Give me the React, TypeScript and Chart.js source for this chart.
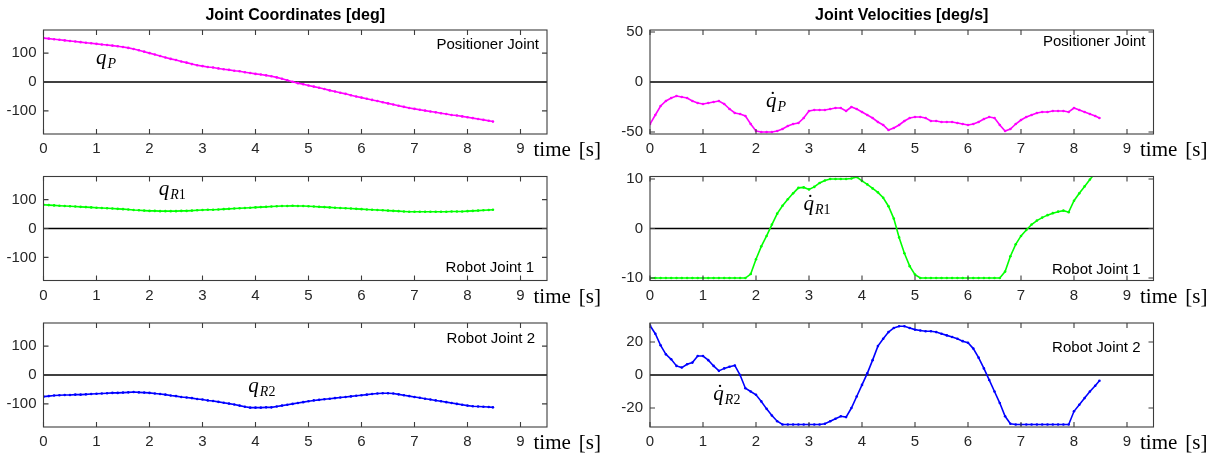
import { useEffect, useRef } from "react";
import { Chart, registerables } from "chart.js";

Chart.register(...registerables);

// ---------------- data ----------------
const TIME = [
  0, 0.1, 0.2, 0.3, 0.4, 0.5, 0.6, 0.7, 0.8, 0.9,
  1.0, 1.1, 1.2, 1.3, 1.4, 1.5, 1.6, 1.7, 1.8, 1.9,
  2.0, 2.1, 2.2, 2.3, 2.4, 2.5, 2.6, 2.7, 2.8, 2.9,
  3.0, 3.1, 3.2, 3.3, 3.4, 3.5, 3.6, 3.7, 3.8, 3.9,
  4.0, 4.1, 4.2, 4.3, 4.4, 4.5, 4.6, 4.7, 4.8, 4.9,
  5.0, 5.1, 5.2, 5.3, 5.4, 5.5, 5.6, 5.7, 5.8, 5.9,
  6.0, 6.1, 6.2, 6.3, 6.4, 6.5, 6.6, 6.7, 6.8, 6.9,
  7.0, 7.1, 7.2, 7.3, 7.4, 7.5, 7.6, 7.7, 7.8, 7.9,
  8.0, 8.1, 8.2, 8.3, 8.4, 8.48,
];

// Joint coordinates [deg]
const Q_P = [
  152, 150, 148, 146, 144, 142, 140, 138, 136, 134,
  132, 130, 128, 126, 124, 121, 118, 114, 110, 105,
  100, 95, 90, 85, 80, 76, 71, 67, 62, 58,
  55, 52, 50, 47, 44, 42, 39, 37, 34, 31,
  28, 26, 23, 20, 16, 11, 6, 1, -4, -8,
  -12, -16, -20, -24, -29, -33, -37, -41, -46, -50,
  -54, -58, -62, -66, -70, -74, -78, -82, -86, -90,
  -93, -96, -99, -102, -105, -108, -111, -114, -116, -119,
  -122, -125, -128, -131, -134, -137,
];

const Q_R1 = [
  82, 81, 80, 79, 78, 77, 76, 75, 74, 73,
  72, 71, 70, 69, 68, 67, 66, 64, 63, 62,
  61, 61, 60, 60, 60, 60, 61, 61, 62, 63,
  64, 65, 65, 66, 67, 68, 69, 70, 71, 72,
  73, 74, 75, 76, 77, 78, 78, 79, 78, 78,
  77, 76, 75, 74, 73, 72, 71, 70, 69, 68,
  67, 66, 65, 64, 63, 62, 61, 60, 59, 58,
  58, 58, 58, 58, 58, 58, 58, 59, 59, 59,
  60, 61, 62, 63, 64, 65,
];

const Q_R2 = [
  -75, -73, -71, -70, -69, -69, -68, -68, -67, -66,
  -65, -64, -63, -62, -62, -61, -60, -59, -60, -61,
  -62, -64, -66, -68, -71, -73, -76, -78, -80, -83,
  -85, -88, -90, -93, -96, -99, -102, -106, -110, -113,
  -113, -113, -112, -112, -109, -106, -103, -100, -97, -94,
  -91, -88, -86, -84, -82, -80, -78, -76, -74, -72,
  -70, -68, -66, -64, -63, -63, -64, -67, -70, -73,
  -76, -79, -82, -85, -88, -91, -94, -97, -100, -103,
  -106, -108, -109, -110, -111, -112,
];

// Joint velocities [deg/s]
const DQ_P = [
  -42, -33, -24, -19, -16, -14, -15, -16, -19, -21,
  -22, -21, -20, -19, -22, -27, -31, -32, -34, -42,
  -49, -50, -50, -50, -49, -47, -44, -42, -41, -36,
  -29, -28, -28, -28, -27, -26, -26, -29, -25, -27,
  -30, -33, -36, -40, -43, -48, -46, -43, -39, -36,
  -35, -35, -36, -39, -39, -40, -40, -40, -41, -42,
  -43, -42, -40, -37, -35, -36, -43, -49, -47, -42,
  -38, -35, -33, -31, -30, -30, -29, -29, -29, -30,
  -26, -28, -30, -32, -34, -36,
];

const DQ_R1 = [
  -10, -10, -10, -10, -10, -10, -10, -10, -10, -10,
  -10, -10, -10, -10, -10, -10, -10, -10, -10, -9.2,
  -6.2, -3.6, -1.5, 0.8, 3, 4.6, 5.9, 7.1, 8.2, 8.3,
  7.9, 8.4, 9.2, 9.7, 10, 10, 10, 10, 10.1, 10.4,
  9.6, 8.9, 8.1, 7.3, 6.2, 4.5, 2, -1.8, -5, -7.6,
  -9.3, -10, -10, -10, -10, -10, -10, -10, -10, -10,
  -10, -10, -10, -10, -10, -10, -10, -8.7, -5.6, -3.2,
  -1.5, -0.3, 0.8, 1.6, 2.2, 2.7, 3.1, 3.4, 3.6, 3.3,
  5.6, 7.1, 8.5, 9.9, 11.2, 12.4,
];

const DQ_R2 = [
  30, 25, 18, 12.5, 9.5, 5.5, 4.5, 6.5, 7.5, 11.5,
  11.5, 9, 5.5, 2.5, 4, 5, 5.8, 0, -8, -10,
  -12, -16, -20.5, -24.5, -28, -30, -30, -30, -30, -30,
  -30, -30, -30, -29.5, -28, -26.5, -25, -25.5, -20, -13,
  -6, 1, 9, 17.5, 22, 26, 28.5, 29.5, 29.5, 28.5,
  27.5, 27, 26.5, 26.5, 26, 25, 24, 23, 22, 20.5,
  19.5, 16, 10.5, 4, -3, -10, -17, -25, -29.5, -30,
  -30, -30, -30, -30, -30, -30, -30, -30, -30, -30,
  -22, -18, -14, -10, -6.5, -3.5,
];

const X_TICKS = [0, 1, 2, 3, 4, 5, 6, 7, 8, 9];
const Y_TICKS_DEG = [-100, 0, 100];
const Y_TICKS_VP = [-50, 0, 50];
const Y_TICKS_VR1 = [-10, 0, 10];
const Y_TICKS_VR2 = [-20, 0, 20];

const TITLES = ["Joint Coordinates [deg]", "Joint Velocities [deg/s]"];
const JOINT_NAMES = ["Positioner Joint", "Robot Joint 1", "Robot Joint 2"];
const X_LABEL = ["time", "[s]"];

// ---------------- layout ----------------
const W = 1214;
const H = 459;
const COLS = [
  { left: 43.5, right: 547 },
  { left: 650, right: 1153.5 },
];
const ROW_TOPS = [30, 176.5, 323];
const PH = 104;
const YW = 40;
const XH = 26;

const SANS = "'Liberation Sans', Arial, Helvetica, sans-serif";
const SERIF = "'Liberation Serif', 'Times New Roman', serif";

type Panel = {
  col: number;
  row: number;
  data: number[];
  color: string;
  min: number;
  max: number;
  yTicks: number[];
  title?: string;
  name: string;
  nameFromTop: boolean;
  nameOffset: number;
  nameMargin: number;
  sub: string;
  dot: boolean;
  labelT: number;
  labelV: number;
};

const PANELS: Panel[] = [
  { col: 0, row: 0, data: Q_P, color: "#ff00ff", min: -180, max: 180, yTicks: Y_TICKS_DEG, title: TITLES[0], name: JOINT_NAMES[0], nameFromTop: true, nameOffset: 15, nameMargin: 8, sub: "P", dot: false, labelT: 1.18, labelV: 70 },
  { col: 0, row: 1, data: Q_R1, color: "#00ff00", min: -180, max: 180, yTicks: Y_TICKS_DEG, name: JOINT_NAMES[1], nameFromTop: false, nameOffset: 13, nameMargin: 13, sub: "R1", dot: false, labelT: 2.43, labelV: 122 },
  { col: 0, row: 2, data: Q_R2, color: "#0000ff", min: -180, max: 180, yTicks: Y_TICKS_DEG, name: JOINT_NAMES[2], nameFromTop: true, nameOffset: 16, nameMargin: 12, sub: "R2", dot: false, labelT: 4.12, labelV: -52 },
  { col: 1, row: 0, data: DQ_P, color: "#ff00ff", min: -52, max: 52, yTicks: Y_TICKS_VP, title: TITLES[1], name: JOINT_NAMES[0], nameFromTop: true, nameOffset: 12, nameMargin: 8, sub: "P", dot: true, labelT: 2.38, labelV: -23 },
  { col: 1, row: 1, data: DQ_R1, color: "#00ff00", min: -10.5, max: 10.5, yTicks: Y_TICKS_VR1, name: JOINT_NAMES[1], nameFromTop: false, nameOffset: 11, nameMargin: 13, sub: "R1", dot: true, labelT: 3.15, labelV: 4.2 },
  { col: 1, row: 2, data: DQ_R2, color: "#0000ff", min: -31.5, max: 31.5, yTicks: Y_TICKS_VR2, name: JOINT_NAMES[2], nameFromTop: true, nameOffset: 25, nameMargin: 13, sub: "R2", dot: true, labelT: 1.45, labelV: -14 },
];

function makePlugin(p: Panel) {
  return {
    id: "matlabDecor",
    beforeDatasetsDraw(chart: any) {
      const { ctx, chartArea: a, scales } = chart;
      const y0 = scales.y.getPixelForValue(0);
      ctx.save();
      ctx.strokeStyle = "#000000";
      ctx.lineWidth = 1.4;
      ctx.beginPath();
      ctx.moveTo(a.left, y0);
      ctx.lineTo(a.right, y0);
      ctx.stroke();
      ctx.restore();
    },
    afterDatasetsDraw(chart: any) {
      const { ctx, chartArea: a, scales } = chart;
      const xs = scales.x;
      const ys = scales.y;
      ctx.save();
      // box
      ctx.strokeStyle = "#3c3c3c";
      ctx.lineWidth = 1.1;
      ctx.strokeRect(a.left, a.top, a.right - a.left, a.bottom - a.top);
      // inward ticks
      const TL = 5;
      ctx.beginPath();
      for (const v of X_TICKS) {
        const px = xs.getPixelForValue(v);
        ctx.moveTo(px, a.bottom);
        ctx.lineTo(px, a.bottom - TL);
        ctx.moveTo(px, a.top);
        ctx.lineTo(px, a.top + TL);
      }
      for (const v of p.yTicks) {
        const py = ys.getPixelForValue(v);
        ctx.moveTo(a.left, py);
        ctx.lineTo(a.left + TL, py);
        ctx.moveTo(a.right, py);
        ctx.lineTo(a.right - TL, py);
      }
      ctx.stroke();

      // title
      if (p.title) {
        ctx.fillStyle = "#000000";
        ctx.font = `bold 16px ${SANS}`;
        ctx.textAlign = "center";
        ctx.textBaseline = "middle";
        ctx.fillText(p.title, (a.left + a.right) / 2, a.top - 14);
      }

      // joint name
      ctx.fillStyle = "#000000";
      ctx.font = `15px ${SANS}`;
      ctx.textAlign = "right";
      ctx.textBaseline = "middle";
      const ny = p.nameFromTop ? a.top + p.nameOffset : a.bottom - p.nameOffset;
      ctx.fillText(p.name, a.right - p.nameMargin, ny);

      // x label "time [s]"
      const x9 = xs.getPixelForValue(9);
      ctx.font = `21px ${SERIF}`;
      ctx.textAlign = "left";
      ctx.textBaseline = "alphabetic";
      const lx = x9 + 13;
      const ly = a.bottom + 22;
      ctx.fillText(X_LABEL[0], lx, ly);
      const tw = ctx.measureText(X_LABEL[0]).width;
      ctx.fillText(X_LABEL[1], lx + tw + 8, ly);

      // math label q / q-dot with subscript
      const cx = xs.getPixelForValue(p.labelT);
      const cy = ys.getPixelForValue(p.labelV);
      ctx.font = `italic 21px ${SERIF}`;
      const qw = ctx.measureText("q").width;
      const subItalic = p.sub.replace(/[0-9]/g, "");
      const subNum = p.sub.replace(/[^0-9]/g, "");
      ctx.font = `italic 14px ${SERIF}`;
      const sw1 = ctx.measureText(subItalic).width;
      ctx.font = `14px ${SERIF}`;
      const sw2 = ctx.measureText(subNum).width;
      const total = qw + 1 + sw1 + sw2;
      const x0 = cx - total / 2;
      const base = cy + 2;
      ctx.textAlign = "left";
      ctx.font = `italic 21px ${SERIF}`;
      ctx.fillText("q", x0, base);
      if (p.dot) {
        ctx.font = `21px ${SERIF}`;
        ctx.textAlign = "center";
        ctx.fillText("\u02D9", x0 + qw / 2 + 1.5, base - 1);
        ctx.textAlign = "left";
      }
      ctx.font = `italic 14px ${SERIF}`;
      ctx.fillText(subItalic, x0 + qw + 1, base + 4);
      if (subNum) {
        ctx.font = `14px ${SERIF}`;
        ctx.fillText(subNum, x0 + qw + 1 + sw1, base + 4);
      }
      ctx.restore();
    },
  };
}

function PanelChart({ p }: { p: Panel }) {
  const ref = useRef<HTMLCanvasElement | null>(null);
  useEffect(() => {
    if (!ref.current) return;
    const col = COLS[p.col];
    const top = ROW_TOPS[p.row];
    const chart = new Chart(ref.current, {
      type: "line",
      data: {
        datasets: [
          {
            data: TIME.map((t, i) => ({ x: t, y: p.data[i] })),
            borderColor: p.color,
            backgroundColor: p.color,
            borderWidth: 1.6,
            pointRadius: 1.3,
            pointBorderWidth: 0,
            pointBackgroundColor: p.color,
            tension: 0,
            clip: 0,
          } as any,
        ],
      },
      options: {
        responsive: false,
        animation: false,
        devicePixelRatio: 1,
        events: [],
        layout: {
          padding: {
            left: col.left - YW,
            right: W - col.right,
            top: top,
            bottom: H - (top + PH) - XH,
          },
        },
        plugins: {
          legend: { display: false },
          tooltip: { enabled: false },
          title: { display: false },
        },
        scales: {
          x: {
            type: "linear",
            min: 0,
            max: 9.5,
            afterBuildTicks: (s: any) => {
              s.ticks = X_TICKS.map((v) => ({ value: v }));
            },
            afterFit: (s: any) => {
              s.height = XH;
            },
            grid: { display: false, drawTicks: false },
            border: { display: false },
            ticks: {
              color: "#262626",
              font: { family: SANS, size: 15 },
              padding: 6,
              maxRotation: 0,
              autoSkip: false,
            },
          },
          y: {
            type: "linear",
            min: p.min,
            max: p.max,
            afterBuildTicks: (s: any) => {
              s.ticks = p.yTicks.map((v) => ({ value: v }));
            },
            afterFit: (s: any) => {
              s.width = YW;
            },
            grid: { display: false, drawTicks: false },
            border: { display: false },
            ticks: {
              color: "#262626",
              font: { family: SANS, size: 15 },
              padding: 7,
              autoSkip: false,
            },
          },
        },
      } as any,
      plugins: [makePlugin(p) as any],
    });
    return () => chart.destroy();
  }, [p]);
  return (
    <canvas
      ref={ref}
      width={W}
      height={H}
      style={{ position: "absolute", left: 0, top: 0, width: W, height: H }}
    />
  );
}

export default function App() {
  return (
    <div
      style={{
        position: "absolute",
        left: 0,
        top: 0,
        width: W,
        height: H,
        background: "#ffffff",
        overflow: "hidden",
      }}
    >
      {PANELS.map((p, i) => (
        <PanelChart key={i} p={p} />
      ))}
    </div>
  );
}
